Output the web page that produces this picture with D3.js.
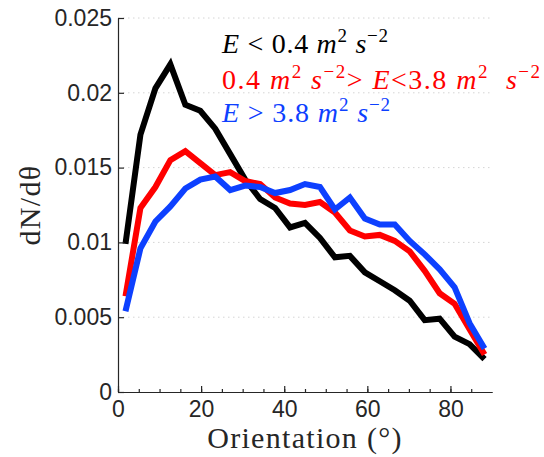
<!DOCTYPE html>
<html>
<head>
<meta charset="utf-8">
<script src="https://cdn.jsdelivr.net/npm/d3@7"></script>
<style>
    body { margin: 0; background: #fff; }
    .tick text { font-family: "Liberation Sans", Arial, sans-serif; font-size: 23px; fill: #262626; }
    .domain, .tick line { stroke: #262626; stroke-width: 1.2px; }
    .grid { stroke: #d4d4d4; stroke-width: 1px; stroke-dasharray: 1.5 3.5; }
    .line { fill: none; stroke-width: 6px; stroke-linejoin: miter; }
    .label { font-family: "Liberation Serif", "Times New Roman", serif; font-size: 30px; fill: #262626; letter-spacing: 1.3px; }
    .legend { font-family: "Liberation Serif", "Times New Roman", serif; font-size: 28px; }
</style>
</head>
<body>
<svg id="chart"></svg>
<script>
const margin = {
    left: 118,
    right: 52,
    top: 18,
    bottom: 65
};
const w = 544, h = 457;

// bin centres (degrees) and the three energy classes
const orientation = [1.8, 5.4, 9, 12.6, 16.2, 19.8, 23.4, 27, 30.6, 34.2, 37.8, 41.4, 45,
    48.6, 52.2, 55.8, 59.4, 63, 66.6, 70.2, 73.8, 77.4, 81, 84.6, 88.2];
const lowE = [0.0099, 0.0172, 0.0203, 0.0219, 0.0192, 0.0188, 0.0176, 0.0159, 0.0142, 0.0129,
    0.0123, 0.0110, 0.0113, 0.0103, 0.0090, 0.0091, 0.0080, 0.0074, 0.0068, 0.0061,
    0.0048, 0.0049, 0.0037, 0.0032, 0.0022];
const midE = [0.0064, 0.0123, 0.0137, 0.0155, 0.0161, 0.0153, 0.0145, 0.0147, 0.0141, 0.0139,
    0.0130, 0.0126, 0.0125, 0.0127, 0.0120, 0.0108, 0.0104, 0.0105, 0.0101, 0.0094,
    0.0081, 0.0066, 0.0059, 0.0042, 0.0025];
const highE = [0.0054, 0.0096, 0.0114, 0.0124, 0.0136, 0.0142, 0.0144, 0.0135, 0.0138, 0.0137,
    0.0133, 0.0135, 0.0139, 0.0137, 0.0122, 0.0130, 0.0116, 0.0112, 0.0112, 0.0101,
    0.0092, 0.0082, 0.0070, 0.0046, 0.0029];

const xTicks = [0, 20, 40, 60, 80];
const xMinorTicks = d3.range(0, 90, 5);
const yTicks = [0, 0.005, 0.01, 0.015, 0.02, 0.025];
const yTickLabels = ['0', '0.005', '0.01', '0.015', '0.02', '0.025'];

const series = [
    {values: lowE, color: '#000000'},
    {values: midE, color: '#ff0000'},
    {values: highE, color: '#0d40ff'}
];

const xScale = d3.scaleLinear()
    .domain([0, 90])
    .range([margin.left, w - margin.right]);

const yScale = d3.scaleLinear()
    .domain([0, 0.025])
    .range([h - margin.bottom, margin.top]);

const chart = d3.select('#chart')
    .attr('width', w)
    .attr('height', h);

// dotted horizontal grid
chart.append('g')
    .selectAll('line')
    .data(yTicks.slice(1))
    .join('line')
    .attr('class', 'grid')
    .attr('x1', xScale(0))
    .attr('x2', xScale(90))
    .attr('y1', d => yScale(d))
    .attr('y2', d => yScale(d));

const line = d3.line()
    .x((d, i) => xScale(orientation[i]))
    .y(d => yScale(d));

series.forEach(s => {
    chart.append('path')
        .datum(s.values)
        .attr('class', 'line')
        .attr('d', line)
        .style('stroke', s.color);
});

// axes, ticks pointing inwards like matlab
chart.append('g')
    .attr('transform', `translate(0,${h - margin.bottom})`)
    .call(d3.axisBottom(xScale).tickValues(xMinorTicks).tickSizeInner(-3).tickSizeOuter(0).tickFormat(''));

chart.append('g')
    .attr('transform', `translate(0,${h - margin.bottom})`)
    .call(d3.axisBottom(xScale).tickValues(xTicks).tickSizeInner(-6).tickSizeOuter(0).tickPadding(9));

chart.append('g')
    .attr('transform', `translate(${margin.left},0)`)
    .call(d3.axisLeft(yScale).tickValues(yTicks).tickSizeInner(-6).tickSizeOuter(0).tickPadding(6)
        .tickFormat((d, i) => yTickLabels[i]));

chart.append('text')
    .attr('class', 'label')
    .attr('x', xScale(45))
    .attr('y', 448)
    .attr('text-anchor', 'middle')
    .text('Orientation (°)');

chart.append('text')
    .attr('class', 'label')
    .attr('transform', `translate(40,${yScale(0.0125)}) rotate(-90)`)
    .attr('text-anchor', 'middle')
    .text('dN/dθ');

// legend lines, written out as pieces: [text, italic?, superscript?]
const legendLines = [
    {color: '#000000', y: 53, len: 166, parts: [['E', 1, 0], [' < 0.4 ', 0, 0], ['m', 1, 0], ['2', 0, 1], [' s', 1, 0], ['−2', 0, 1]]},
    {color: '#ff0000', y: 89, len: 318, parts: [['0.4 ', 0, 0], ['m', 1, 0], ['2', 0, 1], [' s', 1, 0], ['−2', 0, 1],
        ['> ', 0, 0], ['E', 1, 0], ['<3.8 ', 0, 0], ['m', 1, 0], ['2', 0, 1], ['  s', 1, 0], ['−2', 0, 1]]},
    {color: '#0d40ff', y: 122, len: 168, parts: [['E', 1, 0], [' > 3.8 ', 0, 0], ['m', 1, 0], ['2', 0, 1], [' s', 1, 0], ['−2', 0, 1]]}
];

legendLines.forEach(l => {
    const t = chart.append('text')
        .attr('class', 'legend')
        .attr('x', 222)
        .attr('y', l.y)
        .attr('textLength', l.len)
        .attr('lengthAdjust', 'spacing')
        .style('fill', l.color)
        .attr('xml:space', 'preserve');
    let up = false;
    l.parts.forEach(p => {
        const sp = t.append('tspan').text(p[0]);
        if (p[1]) sp.style('font-style', 'italic');
        if (p[2] && !up) { sp.attr('dy', -11).style('font-size', '19px'); up = true; }
        else if (p[2]) sp.style('font-size', '19px');
        else if (up) { sp.attr('dy', 11); up = false; }
    });
});
</script>
</body>
</html>
